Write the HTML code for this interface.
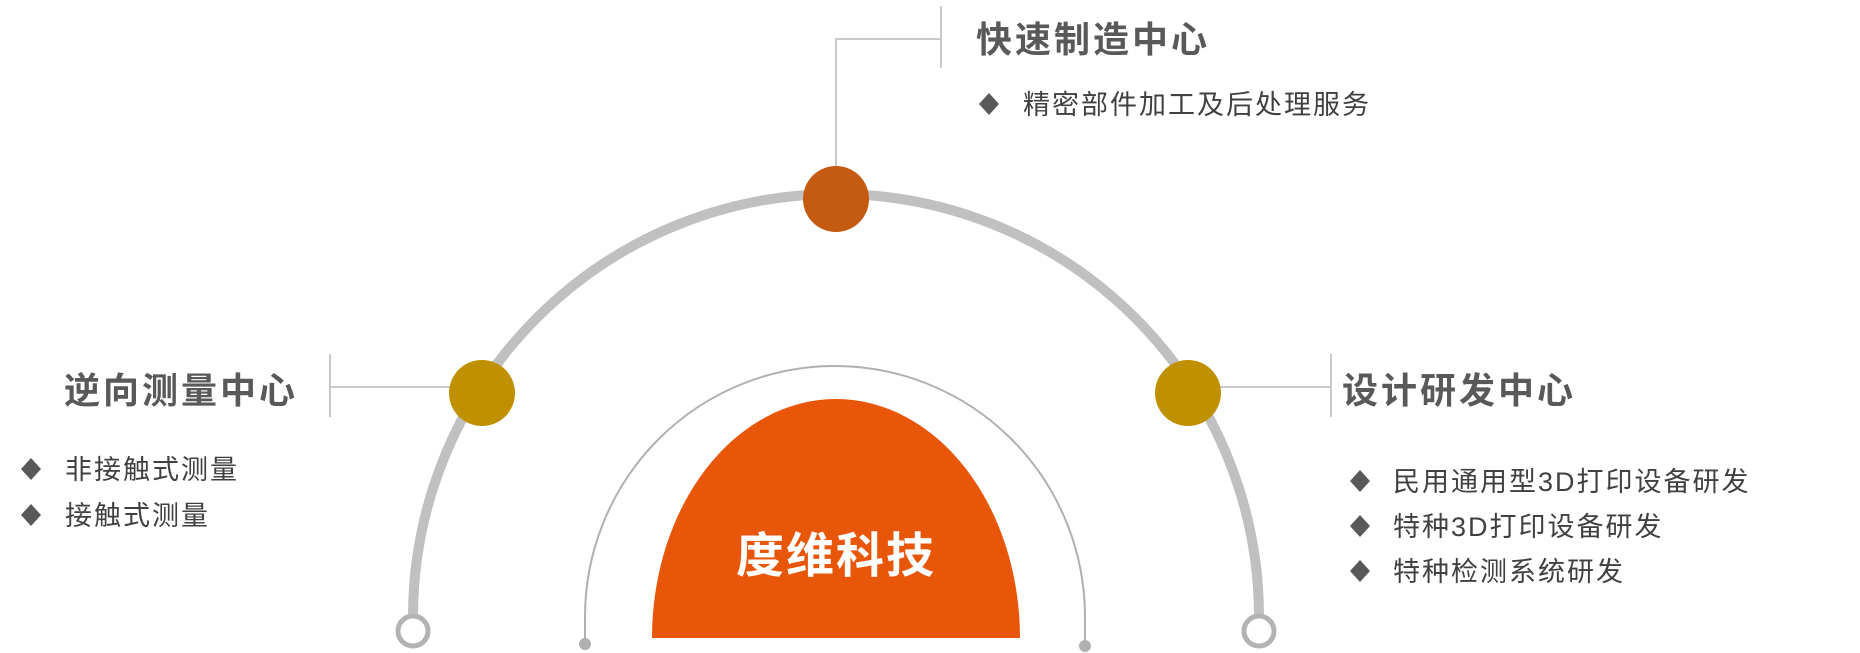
<!DOCTYPE html>
<html><head><meta charset="utf-8"><style>
html,body{margin:0;padding:0;background:#fff;}
svg{display:block}
text{font-family:"Liberation Sans","Noto Sans CJK SC",sans-serif;}
</style></head><body>
<svg width="1860" height="653" viewBox="0 0 1860 653" xmlns="http://www.w3.org/2000/svg">
<path d="M413,622 L413,617 A423,423 0 0 1 1259,617 L1259,622" fill="none" stroke="#c0c0c0" stroke-width="10"/>
<circle cx="413" cy="631" r="15" fill="#fff" stroke="#b3b3b3" stroke-width="5"/>
<circle cx="1259" cy="631" r="15" fill="#fff" stroke="#b3b3b3" stroke-width="5"/>
<path d="M585,642 L585,617 A250,251 0 0 1 1085,617 L1085,642" fill="none" stroke="#b0b0b0" stroke-width="2"/>
<circle cx="585" cy="644" r="6" fill="#b0b0b0"/>
<circle cx="1085" cy="646" r="6" fill="#b0b0b0"/>
<path d="M652,638 A184,239 0 0 1 1020,638 Z" fill="#e8560a"/>
<text x="836" y="572" text-anchor="middle" font-size="48" font-weight="bold" fill="#fff" letter-spacing="2">度维科技</text>
<polyline points="836,166 836,39 941,39" fill="none" stroke="#c8c8c8" stroke-width="2"/>
<line x1="941" y1="6" x2="941" y2="68" stroke="#c8c8c8" stroke-width="2"/>
<line x1="330" y1="387" x2="455" y2="387" stroke="#c8c8c8" stroke-width="2"/>
<line x1="330" y1="354" x2="330" y2="417" stroke="#c8c8c8" stroke-width="2"/>
<line x1="1220" y1="387" x2="1331" y2="387" stroke="#c8c8c8" stroke-width="2"/>
<line x1="1331" y1="354" x2="1331" y2="417" stroke="#c8c8c8" stroke-width="2"/>
<circle cx="836" cy="199" r="33" fill="#c55a11"/>
<circle cx="482" cy="393" r="33" fill="#bf9000"/>
<circle cx="1188" cy="393" r="33" fill="#bf9000"/>
<g font-size="36" font-weight="bold" fill="#595959" letter-spacing="3">
<text x="976" y="52">快速制造中心</text>
<text x="64" y="403">逆向测量中心</text>
<text x="1342" y="403">设计研发中心</text>
</g>
<g fill="#595959">
<path d="M989,93 l10,11 l-10,11 l-10,-11z"/>
<path d="M31,458 l10,11 l-10,11 l-10,-11z"/>
<path d="M31,504 l10,11 l-10,11 l-10,-11z"/>
<path d="M1360,470 l10,11 l-10,11 l-10,-11z"/>
<path d="M1360,515 l10,11 l-10,11 l-10,-11z"/>
<path d="M1360,560 l10,11 l-10,11 l-10,-11z"/>
</g>
<g font-size="27" fill="#404040" letter-spacing="2">
<text x="1023" y="114">精密部件加工及后处理服务</text>
<text x="65" y="479">非接触式测量</text>
<text x="65" y="525">接触式测量</text>
<text x="1393" y="491">民用通用型3D打印设备研发</text>
<text x="1393" y="536">特种3D打印设备研发</text>
<text x="1393" y="581">特种检测系统研发</text>
</g>
</svg>
</body></html>
